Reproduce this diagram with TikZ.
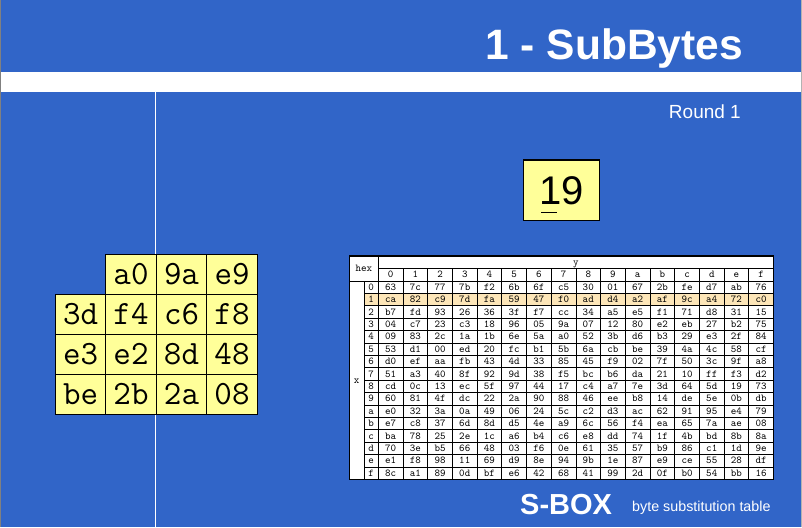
\documentclass[tikz,border=0pt]{standalone}
\usepackage{fontspec}
\setmainfont{Liberation Sans}

\definecolor{slideblue}{RGB}{49,101,200}
\definecolor{cellyellow}{RGB}{255,255,153}
\definecolor{rowpeach}{RGB}{253,230,184}

\tikzset{
  statecell/.style={draw, fill=cellyellow, line width=1pt, minimum width=50.5pt, minimum height=39.9pt,
    inner sep=0pt, text height=20pt, text depth=0pt, font=\ttfamily\fontsize{34pt}{34pt}\selectfont},
  sbcell/.style={draw, line width=0.8pt, minimum width=24.7pt, minimum height=12.4pt,
    inner sep=0pt, text height=6.3pt, text depth=0pt, font=\ttfamily\fontsize{10.5pt}{10.5pt}\selectfont},
  sbrow/.style={sbcell, fill=rowpeach},
  slidetext/.style={text=white, inner sep=0pt}
}

\begin{document}
\begin{tikzpicture}[x=1pt, y=-1pt]
\useasboundingbox (0,0) rectangle (802,527);

% Fond
\fill[slideblue] (0,0) rectangle (802,527);
\fill[white] (0,72) rectangle (802,92);
\fill[gray] (0,0) rectangle (1,527);
\fill[gray!60] (800.7,0) rectangle (802,527);
\draw[white, line width=1.5pt] (155.7,92) -- (155.7,527);

% Titre
\node[slidetext, anchor=base east, font=\bfseries\fontsize{42.5pt}{42.5pt}\selectfont] (title) at (743,59.3) {1 - SubBytes};
\node[slidetext, anchor=base east, font=\fontsize{19pt}{19pt}\selectfont] (round) at (741,118) {Round 1};

% Octet courant
\node[draw, fill=cellyellow, line width=1.5pt, minimum width=76.4pt, minimum height=60.7pt,
  font=\fontsize{40pt}{40pt}\selectfont] (byte) at (561.5,190.3) {19};
\draw[line width=1pt] (541,212) -- (557.3,212);

% Etat
\node[statecell] (m0-1) at (131,274.6) {a0};
\node[statecell] (m0-2) at (181.5,274.6) {9a};
\node[statecell] (m0-3) at (232,274.6) {e9};

\node[statecell] (m1-0) at (80.7,314.5) {3d};
\node[statecell] (m1-1) at (131,314.5) {f4};
\node[statecell] (m1-2) at (181.5,314.5) {c6};
\node[statecell] (m1-3) at (232,314.5) {f8};

\node[statecell] (m2-0) at (80.7,354.4) {e3};
\node[statecell] (m2-1) at (131,354.4) {e2};
\node[statecell] (m2-2) at (181.5,354.4) {8d};
\node[statecell] (m2-3) at (232,354.4) {48};

\node[statecell] (m3-0) at (80.7,394.3) {be};
\node[statecell] (m3-1) at (131,394.3) {2b};
\node[statecell] (m3-2) at (181.5,394.3) {2a};
\node[statecell] (m3-3) at (232,394.3) {08};

% S-box
\fill[white] (349.3,256) rectangle (773.5,479.4);
\node[sbcell, minimum width=29pt, minimum height=24.7pt] (hex) at (363.8,268.65) {hex};
\node[sbcell, minimum width=395.2pt, minimum height=12.3pt] (yhead) at (575.9,262.15) {y};
\node[sbcell, minimum width=14.7pt, minimum height=198.4pt] (xhead) at (356.65,380.2) {x};

\foreach \v [count=\c from 0] in {0,1,2,3,4,5,6,7,8,9,a,b,c,d,e,f}
  \node[sbcell, minimum height=12.7pt] (cy-\c) at ({390.65+24.7*\c},274.65) {\v};
\foreach \v [count=\r from 0] in {0,1,2,3,4,5,6,7,8,9,a,b,c,d,e,f}
  \node[sbcell, minimum width=14.3pt] (rx-\r) at (371.15,{287.2+12.4*\r}) {\v};
\node[sbrow, minimum width=14.3pt] (rx-1) at (371.15,299.6) {1};

\foreach \v [count=\c from 0] in {63,7c,77,7b,f2,6b,6f,c5,30,01,67,2b,fe,d7,ab,76}
  \node[sbcell] (s0-\c) at ({390.65+24.7*\c},287.2) {\v};
\foreach \v [count=\c from 0] in {ca,82,c9,7d,fa,59,47,f0,ad,d4,a2,af,9c,a4,72,c0}
  \node[sbrow] (s1-\c) at ({390.65+24.7*\c},299.6) {\v};
\foreach \v [count=\c from 0] in {b7,fd,93,26,36,3f,f7,cc,34,a5,e5,f1,71,d8,31,15}
  \node[sbcell] (s2-\c) at ({390.65+24.7*\c},312.0) {\v};
\foreach \v [count=\c from 0] in {04,c7,23,c3,18,96,05,9a,07,12,80,e2,eb,27,b2,75}
  \node[sbcell] (s3-\c) at ({390.65+24.7*\c},324.4) {\v};
\foreach \v [count=\c from 0] in {09,83,2c,1a,1b,6e,5a,a0,52,3b,d6,b3,29,e3,2f,84}
  \node[sbcell] (s4-\c) at ({390.65+24.7*\c},336.8) {\v};
\foreach \v [count=\c from 0] in {53,d1,00,ed,20,fc,b1,5b,6a,cb,be,39,4a,4c,58,cf}
  \node[sbcell] (s5-\c) at ({390.65+24.7*\c},349.2) {\v};
\foreach \v [count=\c from 0] in {d0,ef,aa,fb,43,4d,33,85,45,f9,02,7f,50,3c,9f,a8}
  \node[sbcell] (s6-\c) at ({390.65+24.7*\c},361.6) {\v};
\foreach \v [count=\c from 0] in {51,a3,40,8f,92,9d,38,f5,bc,b6,da,21,10,ff,f3,d2}
  \node[sbcell] (s7-\c) at ({390.65+24.7*\c},374.0) {\v};
\foreach \v [count=\c from 0] in {cd,0c,13,ec,5f,97,44,17,c4,a7,7e,3d,64,5d,19,73}
  \node[sbcell] (s8-\c) at ({390.65+24.7*\c},386.4) {\v};
\foreach \v [count=\c from 0] in {60,81,4f,dc,22,2a,90,88,46,ee,b8,14,de,5e,0b,db}
  \node[sbcell] (s9-\c) at ({390.65+24.7*\c},398.8) {\v};
\foreach \v [count=\c from 0] in {e0,32,3a,0a,49,06,24,5c,c2,d3,ac,62,91,95,e4,79}
  \node[sbcell] (sa-\c) at ({390.65+24.7*\c},411.2) {\v};
\foreach \v [count=\c from 0] in {e7,c8,37,6d,8d,d5,4e,a9,6c,56,f4,ea,65,7a,ae,08}
  \node[sbcell] (sb-\c) at ({390.65+24.7*\c},423.6) {\v};
\foreach \v [count=\c from 0] in {ba,78,25,2e,1c,a6,b4,c6,e8,dd,74,1f,4b,bd,8b,8a}
  \node[sbcell] (sc-\c) at ({390.65+24.7*\c},436.0) {\v};
\foreach \v [count=\c from 0] in {70,3e,b5,66,48,03,f6,0e,61,35,57,b9,86,c1,1d,9e}
  \node[sbcell] (sd-\c) at ({390.65+24.7*\c},448.4) {\v};
\foreach \v [count=\c from 0] in {e1,f8,98,11,69,d9,8e,94,9b,1e,87,e9,ce,55,28,df}
  \node[sbcell] (se-\c) at ({390.65+24.7*\c},460.8) {\v};
\foreach \v [count=\c from 0] in {8c,a1,89,0d,bf,e6,42,68,41,99,2d,0f,b0,54,bb,16}
  \node[sbcell] (sf-\c) at ({390.65+24.7*\c},473.2) {\v};

\draw[line width=1.3pt] (349.3,256) rectangle (773.5,479.4);

% Legende
\node[slidetext, anchor=base west, font=\bfseries\fontsize{29pt}{29pt}\selectfont] (sboxname) at (520,514.3) {S-BOX};
\node[slidetext, anchor=base west, font=\fontsize{14.3pt}{14.3pt}\selectfont] (sboxnote) at (632,511.7) {byte substitution table};

\end{tikzpicture}
\end{document}
